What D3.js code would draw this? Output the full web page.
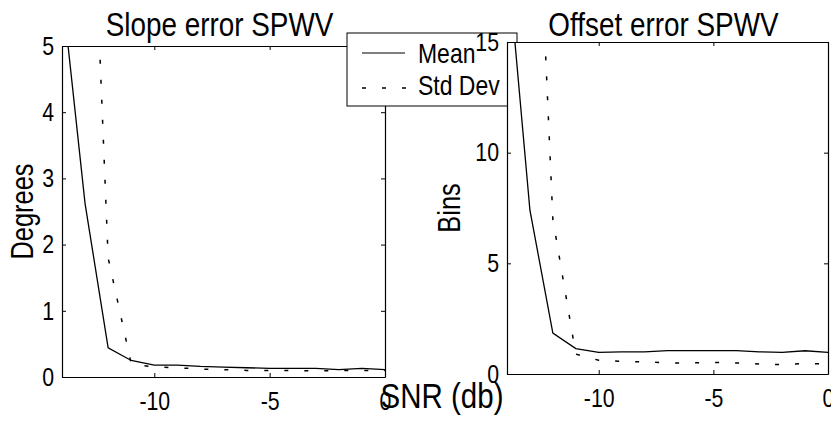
<!DOCTYPE html>
<html>
<head>
<meta charset="utf-8">
<script src="https://cdn.jsdelivr.net/npm/d3@7"></script>
<style>
  body { margin: 0; background: #fff; }
  svg text { font-family: "Liberation Sans", Arial, sans-serif; fill: #000; }
</style>
</head>
<body>
<svg id="chart" width="831" height="422"></svg>
<script>
// SNR in db, one point per dB
const snr = [-14, -13, -12, -11, -10, -9, -8, -7, -6, -5, -4, -3, -2, -1, 0];

// slope error (degrees)
const slopeMean = [5.85, 2.62, 0.44, 0.25, 0.18, 0.18, 0.16, 0.15, 0.14, 0.13, 0.13, 0.13, 0.11, 0.13, 0.11];
const slopeStd  = [12.0, 10.4, 1.8, 0.2, 0.15, 0.14, 0.12, 0.11, 0.1, 0.1, 0.1, 0.09, 0.1, 0.1, 0.1];

// offset error (bins)
const offsetMean = [19.0, 7.4, 1.85, 1.15, 0.98, 1.0, 1.0, 1.06, 1.06, 1.06, 1.06, 1.0, 0.98, 1.05, 0.98];
const offsetStd  = [35.0, 30.5, 7.0, 0.9, 0.62, 0.57, 0.55, 0.5, 0.5, 0.52, 0.5, 0.45, 0.42, 0.48, 0.45];

const xTicks = [-10, -5, 0];
const slopeYTicks = [0, 1, 2, 3, 4, 5];
const offsetYTicks = [0, 5, 10, 15];

const svg = d3.select('#chart');

// the print uses a narrow helvetica, squeeze the text sideways
const K = 0.82;
function narrow(sel) {
  sel.each(function () {
    var t = d3.select(this);
    var x = +(t.attr('x') || 0);
    t.attr('x', x / K);
    var tr = t.attr('transform') || '';
    t.attr('transform', tr + ` scale(${K},1)`);
  });
}

function panel(id, box, yMax, yTicks, mean, std, title, ylabel, ylabelX) {
  var x = d3.scaleLinear().domain([-14, 0]).range([box.x0, box.x1]);
  var y = d3.scaleLinear().domain([0, yMax]).range([box.y1, box.y0]);
  var g = svg.append('g');

  g.append('rect')
    .attr('x', box.x0).attr('y', box.y0)
    .attr('width', box.x1 - box.x0).attr('height', box.y1 - box.y0)
    .attr('fill', '#fff');

  svg.append('clipPath').attr('id', id)
    .append('rect')
    .attr('x', box.x0).attr('y', box.y0)
    .attr('width', box.x1 - box.x0).attr('height', box.y1 - box.y0);

  var line = d3.line().x((d, i) => x(snr[i])).y(d => y(d));

  g.append('path').datum(mean)
    .attr('d', line).attr('fill', 'none')
    .attr('stroke', '#000').attr('stroke-width', 1.3)
    .attr('clip-path', `url(#${id})`);

  g.append('path').datum(std)
    .attr('d', line).attr('fill', 'none')
    .attr('stroke', '#000').attr('stroke-width', 1.5)
    .attr('stroke-dasharray', '4,16')
    .attr('clip-path', `url(#${id})`);

  // axes, matlab style: ticks inward, box all round
  var tick = 4;
  var fmt = d => String(d);
  g.append('g').attr('transform', `translate(0,${box.y1})`)
    .call(d3.axisBottom(x).tickValues(xTicks).tickFormat(fmt).tickSizeInner(-tick).tickSizeOuter(0).tickPadding(15))
    .call(a => a.selectAll('text').attr('font-size', 26).attr('dy', '0.71em').call(narrow));
  g.append('g').attr('transform', `translate(0,${box.y0})`)
    .call(d3.axisTop(x).tickValues(xTicks).tickSizeInner(-tick).tickSizeOuter(0).tickFormat(''));
  g.append('g').attr('transform', `translate(${box.x0},0)`)
    .call(d3.axisLeft(y).tickValues(yTicks).tickFormat(fmt).tickSizeInner(-tick).tickSizeOuter(0).tickPadding(8))
    .call(a => a.selectAll('text').attr('font-size', 26).call(narrow));
  g.append('g').attr('transform', `translate(${box.x1},0)`)
    .call(d3.axisRight(y).tickValues(yTicks).tickSizeInner(-tick).tickSizeOuter(0).tickFormat(''));
  g.selectAll('.domain').attr('stroke', '#000').attr('stroke-width', 1.2);
  g.selectAll('.tick line').attr('stroke', '#000');

  g.append('text')
    .attr('x', (box.x0 + box.x1) / 2 - 4).attr('y', 36)
    .attr('text-anchor', 'middle').attr('font-size', 34)
    .text(title).call(narrow);

  g.append('text')
    .attr('transform', `translate(${ylabelX},${(box.y0 + box.y1) / 2}) rotate(-90)`)
    .attr('text-anchor', 'middle').attr('font-size', 31)
    .text(ylabel).call(narrow);
}

panel('clipL', {x0: 62, x1: 385, y0: 46, y1: 377}, 5, slopeYTicks, slopeMean, slopeStd,
  'Slope error SPWV', 'Degrees', 33);

// legend sits between the plots, the right axes are drawn over it
var lg = svg.append('g');
lg.append('rect').attr('x', 347).attr('y', 33).attr('width', 170).attr('height', 73)
  .attr('fill', '#fff').attr('stroke', '#000').attr('stroke-width', 1);
lg.append('line').attr('x1', 362).attr('x2', 405).attr('y1', 53).attr('y2', 53)
  .attr('stroke', '#000').attr('stroke-width', 1.2);
lg.append('line').attr('x1', 362).attr('x2', 406).attr('y1', 88).attr('y2', 88)
  .attr('stroke', '#000').attr('stroke-width', 1.5).attr('stroke-dasharray', '4,16');
lg.append('text').attr('x', 418).attr('y', 63).attr('font-size', 28).text('Mean').call(narrow);
lg.append('text').attr('x', 418).attr('y', 95).attr('font-size', 28).text('Std Dev').call(narrow);

panel('clipR', {x0: 507, x1: 828, y0: 42, y1: 374}, 15, offsetYTicks, offsetMean, offsetStd,
  'Offset error SPWV', 'Bins', 460);

svg.append('text')
  .attr('x', 442).attr('y', 408)
  .attr('text-anchor', 'middle').attr('font-size', 36)
  .text('SNR (db)').call(narrow);
</script>
</body>
</html>
